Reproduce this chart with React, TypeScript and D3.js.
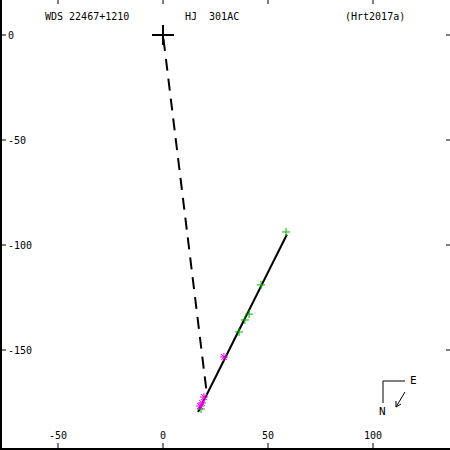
import React from 'react';
import * as d3 from 'd3';

const W = 450;
const H = 450;

// axis ticks (arcsec-ish units, y is negative downward)
const xTicks = [-50, 0, 50, 100];
const yTicks = [0, -50, -100, -150];

// orbit drawn edge-on: end points of the track
const orbitX = [59.0, 16.7];
const orbitY = [-95.0, -179.5];

// dashed line from primary
const nodeX = [0, 21.0];
const nodeY = [0, -171.9];

// green + : micrometer observations
const plusX = [58.6, 46.7, 41.0, 39.0, 36.2, 18.1];
const plusY = [-93.8, -119.0, -132.9, -135.7, -141.4, -178.1];

// magenta * : interferometric observations
const starX = [29.0, 19.5, 18.6, 17.6];
const starY = [-153.3, -172.4, -175.2, -176.7];

const titleLeft = 'WDS 22467+1210';
const titleMid = 'HJ  301AC';
const titleRight = '(Hrt2017a)';

const FONT = '"DejaVu Sans Mono", monospace';

export default function App() {
    const x = d3.scaleLinear().domain([-163 / 2.1, 287 / 2.1]).range([0, W]);
    const y = d3.scaleLinear().domain([35 / 2.1, -415 / 2.1]).range([0, H]);

    const line = d3.line<[number, number]>()
        .x(d => x(d[0]))
        .y(d => y(d[1]));

    const orbitPts: [number, number][] = orbitX.map((v, i) => [v, orbitY[i]]);
    const nodePts: [number, number][] = nodeX.map((v, i) => [v, nodeY[i]]);

    const x0 = x(0);
    const y0 = y(0);

    return (
        <div style={{ position: 'fixed', left: 0, top: 0 }}>
            <svg width={W} height={H} style={{ display: 'block', background: '#fff' }}>
                {/* frame */}
                <line x1={1} y1={0} x2={1} y2={H} stroke="#000" strokeWidth={2} />
                <line x1={0} y1={H - 1} x2={W} y2={H - 1} stroke="#000" strokeWidth={2} />

                {/* x ticks top & bottom */}
                {xTicks.map(t => (
                    <g key={'x' + t}>
                        <line x1={x(t)} x2={x(t)} y1={0} y2={4} stroke="#000" />
                        <line x1={x(t)} x2={x(t)} y1={H - 7} y2={H} stroke="#000" />
                        <text x={x(t)} y={439} textAnchor="middle" fontFamily={FONT} fontSize={10}>
                            {String(t)}
                        </text>
                    </g>
                ))}

                {/* y ticks left & right */}
                {yTicks.map(t => (
                    <g key={'y' + t}>
                        <line x1={0} x2={6} y1={y(t)} y2={y(t)} stroke="#000" />
                        <line x1={W - 4} x2={W} y1={y(t)} y2={y(t)} stroke="#000" />
                        <text x={8} y={y(t) + 4} fontFamily={FONT} fontSize={10}>
                            {String(t)}
                        </text>
                    </g>
                ))}

                {/* titles */}
                <text x={45} y={20} fontFamily={FONT} fontSize={10} style={{ whiteSpace: 'pre' }}>{titleLeft}</text>
                <text x={185} y={20} fontFamily={FONT} fontSize={10} style={{ whiteSpace: 'pre' }}>{titleMid}</text>
                <text x={345} y={20} fontFamily={FONT} fontSize={10} style={{ whiteSpace: 'pre' }}>{titleRight}</text>

                {/* dashed line from primary */}
                <path d={line(nodePts) || ''} fill="none" stroke="#000" strokeWidth={2} strokeDasharray="12,8" strokeDashoffset={-4} />

                {/* orbit */}
                <path d={line(orbitPts) || ''} fill="none" stroke="#000" strokeWidth={2} />

                {/* primary */}
                <line x1={x0 - 11} x2={x0 + 11} y1={y0} y2={y0} stroke="#000" strokeWidth={2} />
                <line x1={x0} x2={x0} y1={y0 - 10} y2={y0 + 10} stroke="#000" strokeWidth={2} />

                {/* green plus */}
                {plusX.map((v, i) => {
                    const cx = x(v), cy = y(plusY[i]);
                    return (
                        <g key={'p' + i} stroke="#00b800" strokeWidth={1}>
                            <line x1={cx - 4} x2={cx + 4} y1={cy} y2={cy} />
                            <line x1={cx} x2={cx} y1={cy - 4} y2={cy + 4} />
                        </g>
                    );
                })}

                {/* magenta asterisks */}
                {starX.map((v, i) => {
                    const cx = x(v), cy = y(starY[i]);
                    return (
                        <g key={'s' + i} stroke="#ff00ff" strokeWidth={1}>
                            <line x1={cx - 4} x2={cx + 4} y1={cy} y2={cy} />
                            <line x1={cx} x2={cx} y1={cy - 4} y2={cy + 4} />
                            <line x1={cx - 3} x2={cx + 3} y1={cy - 3} y2={cy + 3} />
                            <line x1={cx - 3} x2={cx + 3} y1={cy + 3} y2={cy - 3} />
                        </g>
                    );
                })}

                {/* compass */}
                <g stroke="#000" strokeWidth={1} fill="none">
                    <polyline points="405,381 383,381 383,403" />
                    <line x1={405} y1={392} x2={396} y2={407} />
                    <polyline points="396,401 396,407 401,404" />
                </g>
                <text x={410} y={384} fontFamily={FONT} fontSize={11}>E</text>
                <text x={379} y={415} fontFamily={FONT} fontSize={11}>N</text>
            </svg>
        </div>
    );
}
